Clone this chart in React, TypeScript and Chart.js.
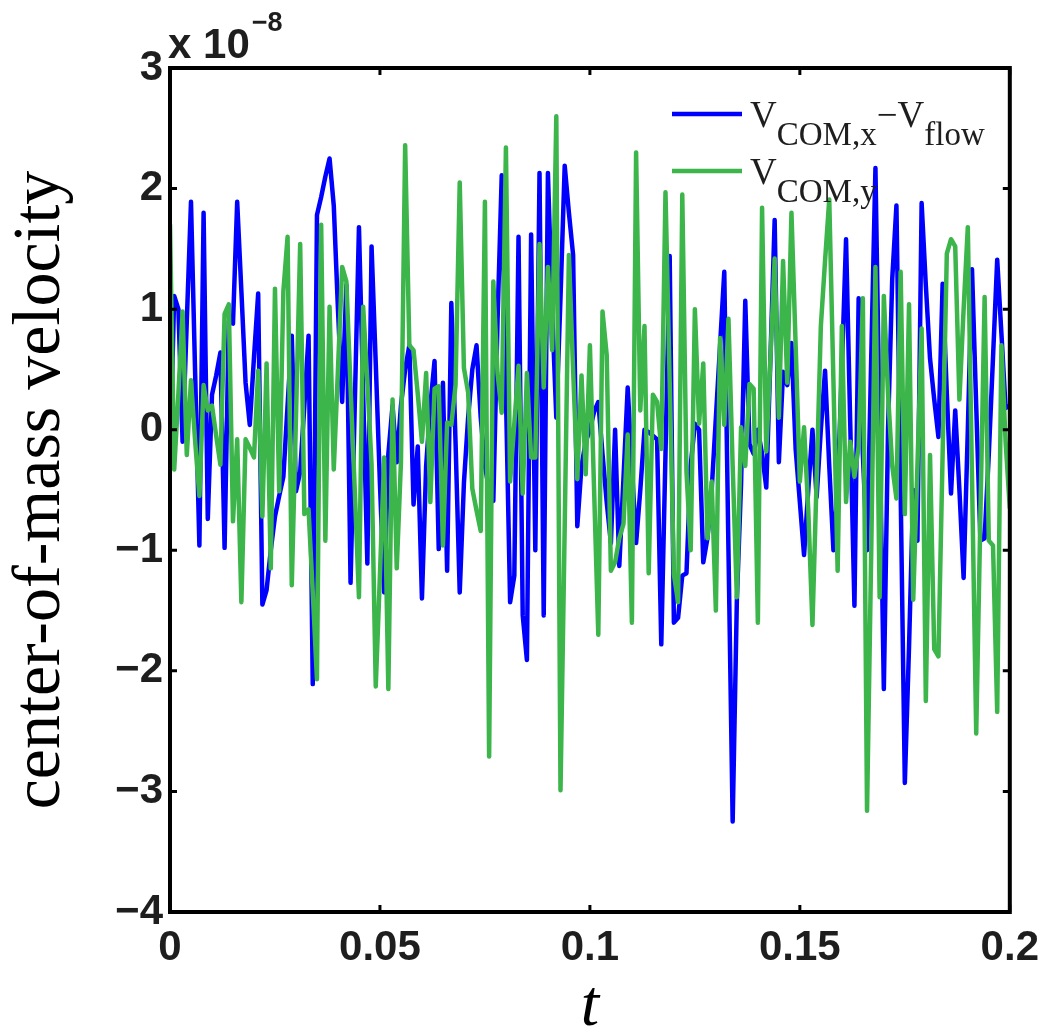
import React, { useEffect, useRef } from 'react';
import { Chart, registerables } from 'chart.js';

Chart.register(...registerables);

// sample spacing of the time series (t in [0, 0.2])
const DT = 0.001;

// V_COM,x - V_flow  (units of 1e-8)
const vComXMinusFlow = [
  -0.27, 1.11, 1.0, -0.10, 0.9, 1.89, 0.45, -0.96, 1.80, -0.74,
  0.29, 0.45, 0.64, -0.98, 0.90, 0.88, 1.89, 1.15, 0.39, 0.04,
  0.6, 1.13, -1.45, -1.33, -1.0, -0.72, -0.55, -0.39, 0.2, 0.78,
  -0.51, -0.35, 0.2, 0.78, -2.11, 1.78, 1.93, 2.1, 2.25, 1.86,
  1.0, 0.23, 1.2, -1.27, 0.2, 1.68, 0.3, -1.11, 1.52, 0.55,
  -0.45, -1.35, -0.2, 0.2, -0.27, 0.2, 0.5, 0.70, -0.62, -0.14,
  -1.40, -0.3, 0.2, 0.57, -0.99, 0.39, -1.17, 1.05, -0.1, -1.35,
  -0.44, 0.1, 0.5, 0.70, 0.1, -0.3, -0.5, -0.59, 0.9, 2.11,
  0.3, -1.43, -1.21, 1.60, -1.54, -1.91, 1.62, -1.0, 2.13, -1.54,
  2.13, 1.0, 0.1, 1.1, 2.19, 1.8, 1.45, -0.80, -0.3, -0.1,
  0.0, 0.15, 0.23, -0.2, -0.6, -0.94, 0.0, -1.13, -0.4, 0.35,
  -0.3, -0.94, -0.5, 0.0, -0.02, -0.05, -0.08, -1.78, -0.2, 1.44,
  -1.60, -1.56, -1.21, -1.19, -0.3, 0.05, 0.0, -1.1, -0.9, -0.5,
  0.1, 0.7, 1.31, -1.0, -3.25, -1.41, -0.45, 1.07, -0.12, -0.2,
  0.0, -0.2, -0.48, 0.6, 1.74, -0.27, 0.48, 0.37, 0.72, -0.16,
  -0.6, -1.04, -0.5, 0.0, -0.56, 0.0, 0.49, -0.3, -1.0, -0.5,
  0.5, 1.58, 0.05, -1.46, 1.09, -0.2, -1.0, 0.6, 2.17, 0.0,
  -2.15, 0.0, 1.25, 1.86, -0.5, -2.93, -1.8, -0.5, -0.92, 1.88,
  1.2, 0.59, 0.25, -0.06, 1.21, 0.3, -0.53, 0.16, -0.5, -1.23,
  0.0, 1.33, 0.2, -0.92, -0.9, -0.2, 0.6, 1.41, 0.8, 0.18,
  0.2,
];

// V_COM,y  (units of 1e-8)
const vComY = [
  1.70, -0.33, 0.3, 0.98, -0.21, 0.41, -0.1, -0.55, 0.37, 0.16,
  0.20, -0.05, -0.29, 0.96, 1.04, -0.76, -0.08, -1.43, -0.08, -0.15,
  -0.23, 0.49, -0.72, 0.55, -1.15, 1.17, -0.51, 1.15, 1.60, -1.29,
  0.1, 1.54, -0.70, -0.66, -1.35, -2.07, 1.70, -0.92, 1.02, -0.33,
  0.5, 1.35, 1.23, 0.35, -0.5, -1.39, 1.02, 0.4, -0.29, -2.13,
  -1.2, -0.23, -2.15, 0.25, -1.15, -0.27, 2.36, 0.70, 0.66, 0.3,
  -0.10, 0.47, -0.60, 0.34, 0.36, -0.96, 0.06, 0.04, 0.37, 2.05,
  0.51, 0.31, -0.49, -0.67, -0.84, 1.89, -2.71, 1.23, 0.47, 0.14,
  2.34, -0.43, 0.05, 0.53, -0.53, 0.47, -0.23, -0.23, 1.54, 0.35,
  1.35, 0.66, 2.60, -2.99, -0.8, 1.45, 0.5, -0.41, 0.45, -0.37,
  0.70, -0.5, -1.70, 0.98, 0.62, -1.17, -1.1, -0.9, -0.78, -0.04,
  -1.6, 2.30, 0.16, 0.86, -1.19, 0.29, 0.23, -0.16, 1.97, 0.4,
  -1.2, -1.43, 1.95, -0.35, -1.0, 1.0, 0.05, 0.55, -0.9, -0.43,
  -1.5, 0.76, 0.04, 0.92, -0.3, -1.39, 0.02, -0.3, 0.38, 0.34,
  -1.6, 1.84, -0.18, 0.6, 1.42, 0.1, 1.40, 0.39, 1.80, 0.7,
  -0.43, 0.02, -0.66, -1.62, -0.4, 0.86, 1.4, 1.91, 0.4, -1.17,
  0.86, -0.6, -0.1, -0.39, -0.14, 1.09, -3.16, -1.0, 1.35, -1.39,
  1.11, 0.3, -0.3, -0.57, 1.31, -0.7, 1.04, -1.41, -0.3, 0.84,
  -2.25, -0.21, -1.82, -1.88, -0.2, 1.46, 1.58, 1.52, 0.25, 1.0,
  1.68, -0.4, -2.52, -0.7, 1.10, -0.92, -0.96, -2.34, 0.70, -0.1,
  -0.65,
];

const xTickValues = [0, 0.05, 0.1, 0.15, 0.2];
const xTickLabels = ['0', '0.05', '0.1', '0.15', '0.2'];
const yTickValues = [-4, -3, -2, -1, 0, 1, 2, 3];
const yTickLabels = ['\u22124', '\u22123', '\u22122', '\u22121', '0', '1', '2', '3'];

const xAxisTitle = 't';
const yAxisTitle = 'center-of-mass velocity';
const exponentBase = 'x 10';
const exponentPower = '\u22128';

// legend pieces: [text, isSubscript]
const legendBlue: [string, boolean][] = [['V', false], ['COM,x', true], ['\u2212V', false], ['flow', true]];
const legendGreen: [string, boolean][] = [['V', false], ['COM,y', true]];

const BLUE = '#0000ff';
const GREEN = '#3cb54a';
const TEXT = '#1e1e1e';
const SANS = '"Liberation Sans", Arial, Helvetica, sans-serif';
const SERIF = '"Liberation Serif", "Times New Roman", Times, serif';

const decorPlugin = {
  id: 'decor',
  afterDatasetsDraw(chart: any) {
    const { ctx, chartArea, scales } = chart;
    const { left, right, top, bottom } = chartArea;
    const xs = scales.x;
    const ys = scales.y;
    ctx.save();
    ctx.strokeStyle = '#000';
    ctx.lineCap = 'butt';
    const TL = 7;
    ctx.lineWidth = 3;
    ctx.beginPath();
    xTickValues.forEach((v) => {
      const px = xs.getPixelForValue(v);
      ctx.moveTo(px, bottom);
      ctx.lineTo(px, bottom - TL);
      ctx.moveTo(px, top);
      ctx.lineTo(px, top + TL);
    });
    yTickValues.forEach((v) => {
      const py = ys.getPixelForValue(v);
      ctx.moveTo(left, py);
      ctx.lineTo(left + TL, py);
      ctx.moveTo(right, py);
      ctx.lineTo(right - TL, py);
    });
    ctx.stroke();
    ctx.lineWidth = 4;
    ctx.strokeRect(left, top, right - left, bottom - top);

    // exponent label
    ctx.fillStyle = TEXT;
    ctx.textBaseline = 'alphabetic';
    ctx.textAlign = 'left';
    ctx.font = `bold 42px ${SANS}`;
    ctx.fillText(exponentBase, left - 2, 58);
    const w = ctx.measureText(exponentBase).width;
    ctx.font = `bold 27px ${SANS}`;
    ctx.fillText(exponentPower, left - 2 + w + 2, 31);

    // legend
    const drawEntry = (parts: [string, boolean][], color: string, ly: number) => {
      ctx.strokeStyle = color;
      ctx.lineWidth = 4.5;
      ctx.beginPath();
      ctx.moveTo(672, ly);
      ctx.lineTo(742, ly);
      ctx.stroke();
      let x = 750;
      ctx.fillStyle = TEXT;
      parts.forEach(([t, sub]) => {
        ctx.font = sub ? `33px ${SERIF}` : `37px ${SERIF}`;
        ctx.fillText(t, x, sub ? ly + 31 : ly + 13);
        x += ctx.measureText(t).width;
      });
    };
    drawEntry(legendBlue, BLUE, 114);
    drawEntry(legendGreen, GREEN, 171);
    ctx.restore();
  },
};

export default function App() {
  const ref = useRef<HTMLCanvasElement>(null);
  useEffect(() => {
    document.body.style.margin = '0';
    const times = vComXMinusFlow.map((_, i) => i * DT);
    const chart = new Chart(ref.current as HTMLCanvasElement, {
      type: 'line',
      data: {
        datasets: [
          {
            label: 'V_COM,x - V_flow',
            data: times.map((t, i) => ({ x: t, y: vComXMinusFlow[i] })),
            borderColor: BLUE,
            backgroundColor: BLUE,
            borderWidth: 4.5,
            pointRadius: 0,
            tension: 0,
            borderJoinStyle: 'round',
            borderCapStyle: 'round',
            order: 1,
          },
          {
            label: 'V_COM,y',
            data: times.map((t, i) => ({ x: t, y: vComY[i] })),
            borderColor: GREEN,
            backgroundColor: GREEN,
            borderWidth: 4.5,
            pointRadius: 0,
            tension: 0,
            borderJoinStyle: 'round',
            borderCapStyle: 'round',
            order: 0,
          },
        ],
      },
      options: {
        responsive: false,
        animation: false,
        events: [],
        layout: { padding: { left: 0, right: 32, top: 68, bottom: 0 } },
        plugins: { legend: { display: false }, tooltip: { enabled: false } },
        scales: {
          x: {
            type: 'linear',
            min: 0,
            max: 0.2,
            afterFit: (s: any) => { s.height = 120; },
            afterBuildTicks: (s: any) => { s.ticks = xTickValues.map((v) => ({ value: v })); },
            grid: { display: false, drawTicks: false },
            border: { display: false },
            ticks: {
              autoSkip: false,
              maxRotation: 0,
              padding: 11,
              color: TEXT,
              font: { family: SANS, size: 42, weight: 'bold' },
              callback: (_v: any, i: number) => xTickLabels[i],
            },
            title: {
              display: true,
              text: xAxisTitle,
              color: '#000',
              font: { family: SERIF, size: 66, style: 'italic' },
              padding: { top: 0, bottom: -15 },
            },
          },
          y: {
            type: 'linear',
            min: -4,
            max: 3,
            afterFit: (s: any) => { s.width = 170; },
            afterBuildTicks: (s: any) => { s.ticks = yTickValues.map((v) => ({ value: v })); },
            grid: { display: false, drawTicks: false },
            border: { display: false },
            ticks: {
              autoSkip: false,
              padding: 7,
              color: TEXT,
              font: { family: SANS, size: 42, weight: 'bold' },
              callback: (_v: any, i: number) => yTickLabels[i],
            },
            title: {
              display: true,
              text: yAxisTitle,
              color: '#000',
              font: { family: SERIF, size: 68 },
              padding: { top: 0, bottom: 0 },
            },
          },
        },
      },
      plugins: [decorPlugin],
    } as any);
    return () => chart.destroy();
  }, []);
  return (
    <div style={{ position: 'absolute', left: 0, top: 0, width: 1050, height: 1032, background: '#fff' }}>
      <canvas ref={ref} width={1050} height={1032} style={{ display: 'block' }} />
    </div>
  );
}
